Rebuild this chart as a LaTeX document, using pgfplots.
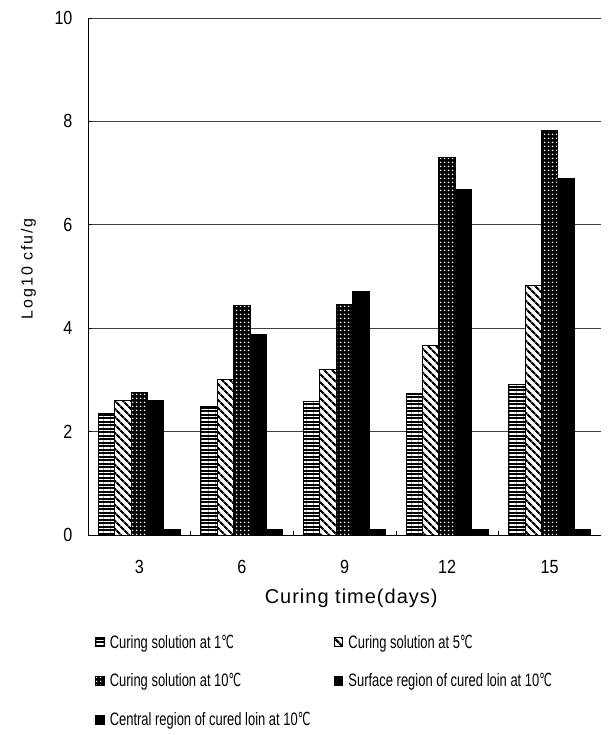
\documentclass[border=0pt]{standalone}
\usepackage{fontspec}
\setmainfont{Liberation Sans}
\newfontfamily\tkfont[FakeStretch=0.85]{Liberation Sans}
\newfontfamily\lgfont[FakeStretch=0.72]{Liberation Sans}
\newfontfamily\dvfont[FakeStretch=0.62]{DejaVu Sans}
\newfontfamily\ylfont[LetterSpace=12]{Liberation Sans}
\newfontfamily\xlfont[LetterSpace=5]{Liberation Sans}
\newcommand{\dC}{{\dvfont\char"2103}}
\usepackage{pgfplots}
\pgfplotsset{compat=1.18}
\usetikzlibrary{patterns.meta}
\begin{document}
\begin{tikzpicture}
\begin{axis}[
  at={(0,0)}, anchor=south west,
  scale only axis, width=513bp, height=517bp,
  ymin=0, ymax=10, ytick={0,2,...,10},
  xmin=-0.5, xmax=4.5, xtick={0,...,4}, xticklabels={3,6,9,12,15},
  minor xtick={0.5,1.5,2.5,3.5},
  ybar=0pt, bar width=16.4bp,
  axis x line*=bottom, axis y line*=left,
  axis line style={-, black, line width=0.9bp},
  ymajorgrids, grid style={black!75, line width=0.6bp},
  tick align=inside,
  major x tick style={draw=none},
  minor tick length=4bp, major tick length=4bp,
  tick style={black, line width=0.6bp},
  /pgf/number format/assume math mode=true,
  xticklabel style={font=\tkfont\fontsize{19bp}{22bp}\selectfont, anchor=base, yshift=-38bp},
  yticklabel style={font=\tkfont\fontsize{19bp}{22bp}\selectfont, anchor=east, xshift=-12bp},
  every axis y label/.style={at={(axis description cs:-0.116,0.515)}, rotate=90, anchor=center, font=\ylfont\fontsize{16bp}{19bp}\selectfont},
  every axis x label/.style={at={(axis description cs:0.513,-0.122)}, anchor=center, font=\xlfont\fontsize{20bp}{24bp}\selectfont},
  xlabel={Curing time(days)},
  ylabel={Log10 cfu/g},
  legend columns=2,
  legend cell align=left,
  legend image code/.code={\draw[#1, line width=0.6bp] (0bp,-4.5bp) rectangle (8.5bp,4.5bp);},
  legend style={at={(0,0)}, anchor=north west, xshift=4bp, yshift=-96bp,
    draw=none, fill=none, font=\lgfont\fontsize{18bp}{21bp}\selectfont,
    nodes={inner sep=1.5bp}, row sep=21bp,
    /tikz/every odd column/.append style={column sep=4bp},
    /tikz/every even column/.append style={column sep=22bp}},
]
\addplot[draw=black, line width=1bp, fill=black, postaction={pattern={Lines[angle=0, distance=3.5bp, line width=1.1bp]}, pattern color=white}]
  coordinates {(0,2.35) (1,2.49) (2,2.58) (3,2.73) (4,2.91)};
\addlegendentry{Curing solution at 1\dC}
\addplot[draw=black, line width=1bp, fill=white, postaction={pattern={Lines[angle=-45, distance=6bp, line width=2.6bp]}, pattern color=black}]
  coordinates {(0,2.60) (1,3.00) (2,3.20) (3,3.67) (4,4.82)};
\addlegendentry{Curing solution at 5\dC}
\addplot[draw=black, line width=1bp, fill=black, postaction={pattern={Dots[distance=3.6bp, radius=0.85bp]}, pattern color=white}]
  coordinates {(0,2.75) (1,4.43) (2,4.46) (3,7.30) (4,7.82)};
\addlegendentry{Curing solution at 10\dC}
\addplot[draw=black, line width=1bp, fill=black]
  coordinates {(0,2.60) (1,3.88) (2,4.71) (3,6.69) (4,6.89)};
\addlegendentry{Surface region of cured loin at 10\dC}
\addplot[draw=black, line width=1bp, fill=black]
  coordinates {(0,0.1) (1,0.1) (2,0.1) (3,0.1) (4,0.1)};
\addlegendentry{Central region of cured loin at 10\dC}
\end{axis}
\pgfresetboundingbox
\path ([xshift=-88bp,yshift=-200bp]current axis.south west) rectangle ([xshift=8bp,yshift=18bp]current axis.north east);
\end{tikzpicture}
\end{document}
